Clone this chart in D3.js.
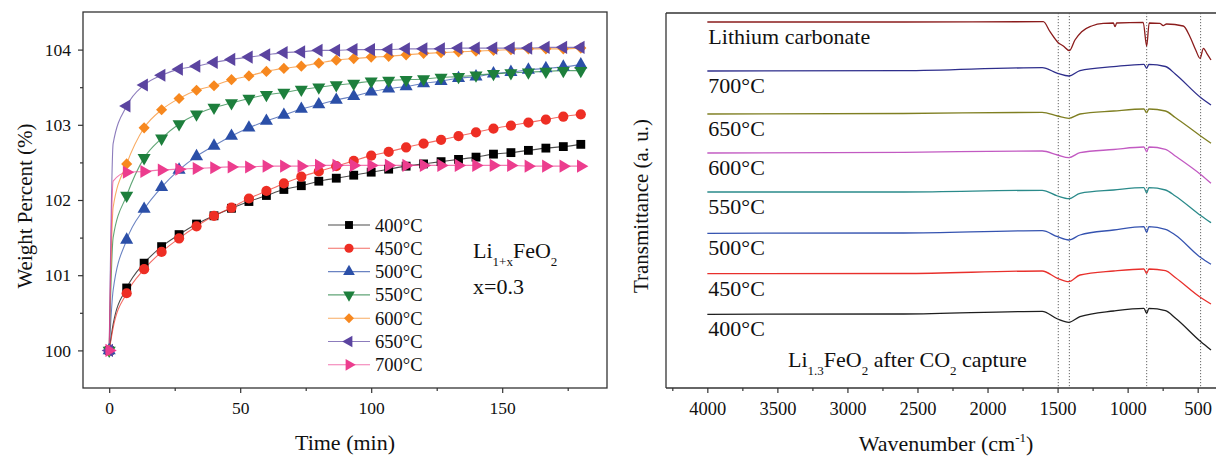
<!DOCTYPE html>
<html><head><meta charset="utf-8">
<script src="https://cdn.jsdelivr.net/npm/d3@7"></script>
<style>
body{margin:0;background:#fff;}
svg text{font-family:"Liberation Serif","Times New Roman",serif !important;fill:#111;}
</style></head>
<body><svg id="chart" width="1216" height="458"></svg>
<script>
// ---------- Left panel data (weight gain vs time) ----------
const times = [0, 6.67, 13.33, 20, 26.67, 33.33, 40, 46.67, 53.33, 60, 66.67, 73.33, 80, 86.67, 93.33, 100, 106.67, 113.33, 120, 126.67, 133.33, 140, 146.67, 153.33, 160, 166.67, 173.33, 180];
const seriesNames = ["400°C", "450°C", "500°C", "550°C", "600°C", "650°C", "700°C"];
const w400 = [100, 100.83, 101.16, 101.38, 101.54, 101.68, 101.79, 101.89, 101.98, 102.06, 102.14, 102.19, 102.25, 102.29, 102.33, 102.37, 102.41, 102.45, 102.48, 102.51, 102.54, 102.57, 102.61, 102.63, 102.66, 102.69, 102.71, 102.74];
const w450 = [100, 100.76, 101.08, 101.31, 101.49, 101.65, 101.79, 101.90, 102.02, 102.12, 102.22, 102.31, 102.38, 102.45, 102.52, 102.59, 102.64, 102.70, 102.75, 102.80, 102.85, 102.90, 102.95, 102.99, 103.03, 103.07, 103.11, 103.14];
const w500 = [100, 101.47, 101.88, 102.17, 102.40, 102.58, 102.72, 102.85, 102.96, 103.05, 103.13, 103.21, 103.27, 103.33, 103.38, 103.44, 103.48, 103.51, 103.55, 103.58, 103.62, 103.64, 103.68, 103.70, 103.73, 103.75, 103.77, 103.80];
const w550 = [100, 102.06, 102.56, 102.82, 103.01, 103.14, 103.23, 103.29, 103.35, 103.40, 103.43, 103.47, 103.50, 103.53, 103.55, 103.58, 103.59, 103.60, 103.61, 103.63, 103.64, 103.66, 103.68, 103.69, 103.70, 103.71, 103.72, 103.72];
const w600 = [100, 102.48, 102.96, 103.20, 103.35, 103.46, 103.52, 103.60, 103.65, 103.71, 103.75, 103.78, 103.82, 103.86, 103.88, 103.90, 103.91, 103.93, 103.95, 103.96, 103.97, 103.98, 103.99, 104.00, 104.01, 104.01, 104.01, 104.02];
const w650 = [100, 103.25, 103.53, 103.66, 103.74, 103.78, 103.83, 103.87, 103.90, 103.93, 103.96, 103.97, 103.99, 103.99, 104.00, 104.00, 104.00, 104.01, 104.01, 104.01, 104.02, 104.02, 104.02, 104.02, 104.02, 104.03, 104.03, 104.03];
const w700 = [100, 102.37, 102.38, 102.40, 102.41, 102.42, 102.43, 102.44, 102.44, 102.45, 102.45, 102.45, 102.46, 102.46, 102.46, 102.46, 102.46, 102.46, 102.46, 102.46, 102.46, 102.46, 102.46, 102.46, 102.45, 102.45, 102.45, 102.45];
// early (unmarked) reading of each trace shortly after start
const earlyTime = 1.5;
const earlyValues = [100.35, 100.30, 100.80, 101.50, 101.90, 102.75, 102.25];
const seriesValues = [w400, w450, w500, w550, w600, w650, w700];
const seriesColors = ["#000000", "#EE2E24", "#2B4FA8", "#1D7F3C", "#F7881F", "#5B44A0", "#EC3D8E"];
const seriesSymbols = ["square", "circle", "up", "down", "diamond", "left", "right"];
const timeTicks = [0, 50, 100, 150];
const weightTicks = [100, 101, 102, 103, 104];

// ---------- Right panel data (FTIR spectra) ----------
const specLabels = ["Lithium carbonate", "700°C", "650°C", "600°C", "550°C", "500°C", "450°C", "400°C"];
const specColors = ["#8B1C1C", "#2E2E8C", "#7F7F22", "#C25AC2", "#2A8A8A", "#3553B0", "#E8302C", "#1E1E1E"];
const liWn = [4000, 2600, 1602, 1554, 1495, 1459, 1416, 1376, 1328, 1257, 1174, 1102, 1090, 1078, 889, 864, 846, 769, 746, 722, 603, 555, 514, 483, 459, 435, 405];
const liT = [366, 366, 366.3, 356.3, 345.3, 342, 337.3, 348, 356.3, 362, 364.7, 365, 361.3, 365, 365.7, 342, 365, 364.7, 362.3, 364, 362, 351.3, 338, 329.7, 339.7, 334.7, 328];
const sampleWn = [4000, 2600, 1610, 1500, 1420, 1340, 1100, 884, 864, 848, 730, 660, 479, 405];
const t700 = [317, 317.3, 320.3, 314.7, 312, 317.3, 321.3, 323.7, 319.7, 323.7, 321.5, 314, 290.5, 283];
const t650 = [274, 274.5, 275.7, 272, 269.7, 274, 277, 279, 275.3, 279, 277, 270.5, 252, 244.7];
const t600 = [235, 235.7, 237, 233, 230.3, 235.3, 238.5, 241, 236.3, 241, 238.7, 232, 213.5, 204.7];
const t550 = [196, 196, 197.7, 192, 189.3, 194.7, 198, 200.3, 195.3, 200.3, 198, 192, 172.5, 165.3];
const t500 = [154.7, 155, 157.3, 151.3, 148, 153, 158, 161.3, 155.7, 161.3, 158.7, 153, 130.5, 123.7];
const t450 = [114.3, 114.5, 117, 109.7, 106.3, 113, 117, 119, 114.7, 119, 117.3, 110.5, 90.5, 84];
const t400 = [73.7, 74, 76.7, 69, 65.7, 71.3, 77, 79.7, 74.7, 79.7, 77.3, 70, 46.5, 38];
const markerWn = [1495, 1416, 864, 479];
const wnTicks = [4000, 3500, 3000, 2500, 2000, 1500, 1000, 500];

// ---------- drawing ----------
const svg = d3.select("#chart");
svg.append("rect").attr("width", 1216).attr("height", 458).attr("fill", "#fff");
const FONT = '"Liberation Serif","Times New Roman",serif';
const axisColor = "#333";

function styleAxis(g, fs) {
  g.attr("font-family", FONT);
  g.selectAll("path.domain").remove();
  g.selectAll("line").attr("stroke", axisColor).attr("stroke-width", 1.2);
  g.selectAll("text").style("font-family", FONT).style("font-size", fs + "px").attr("fill", "#111");
}
function T(sel, fs) { return sel.style("font-family", FONT).style("font-size", fs + "px"); }

// ===== Left =====
const L = {x0: 83, x1: 607, y0: 12, y1: 388};
const xL = d3.scaleLinear().domain([-10, 190]).range([L.x0, L.x1]);
const yL = d3.scaleLinear().domain([99.5, 104.5]).range([L.y1, L.y0]);

const gxL = svg.append("g").attr("transform", `translate(0,${L.y1})`)
  .call(d3.axisBottom(xL).tickValues(timeTicks).tickSize(5).tickPadding(9).tickFormat(d3.format("d")));
styleAxis(gxL, 17.5);
const gxLm = svg.append("g").attr("transform", `translate(0,${L.y1})`)
  .call(d3.axisBottom(xL).tickValues([25, 75, 125, 175]).tickSize(3).tickFormat(""));
styleAxis(gxLm, 17.5);
const gyL = svg.append("g").attr("transform", `translate(${L.x0},0)`)
  .call(d3.axisLeft(yL).tickValues(weightTicks).tickSize(5).tickPadding(7).tickFormat(d3.format("d")));
styleAxis(gyL, 17.5);
const gyLm = svg.append("g").attr("transform", `translate(${L.x0},0)`)
  .call(d3.axisLeft(yL).tickValues([100.5, 101.5, 102.5, 103.5]).tickSize(3).tickFormat(""));
styleAxis(gyLm, 17.5);

svg.append("rect").attr("x", L.x0).attr("y", L.y0).attr("width", L.x1 - L.x0).attr("height", L.y1 - L.y0)
  .attr("fill", "none").attr("stroke", axisColor).attr("stroke-width", 1.3);

function symPath(kind, scale) {
  const k = scale || 1;
  if (kind === "square") return {t: d3.symbol(d3.symbolSquare, 78 * k)(), r: 0};
  if (kind === "circle") return {t: d3.symbol(d3.symbolCircle, 82 * k)(), r: 0};
  if (kind === "diamond") return {t: d3.symbol(d3.symbolSquare, 62 * k)(), r: 45};
  const tri = d3.symbol(d3.symbolTriangle, 74 * k)();
  if (kind === "up") return {t: tri, r: 0};
  if (kind === "down") return {t: tri, r: 180};
  if (kind === "left") return {t: tri, r: -90};
  return {t: tri, r: 90};
}

const lineL = d3.line().x(d => xL(d[0])).y(d => yL(d[1])).curve(d3.curveMonotoneX);
seriesValues.forEach((vals, i) => {
  const pts = times.map((t, j) => [t, vals[j]]);
  const linePts = [pts[0], [earlyTime, earlyValues[i]], ...pts.slice(1)];
  svg.append("path").attr("d", lineL(linePts)).attr("fill", "none")
    .attr("stroke", seriesColors[i]).attr("stroke-opacity", 0.7).attr("stroke-width", 1.1);
});
seriesValues.forEach((vals, i) => {
  const sp = symPath(seriesSymbols[i]);
  svg.append("g").selectAll("path").data(times.map((t, j) => [t, vals[j]])).join("path")
    .attr("d", sp.t)
    .attr("transform", d => `translate(${xL(d[0])},${yL(d[1])}) rotate(${sp.r})`)
    .attr("fill", seriesColors[i]);
});

// legend
const legX = 328, legY = 225, legDy = 23.3;
seriesNames.forEach((name, i) => {
  const yy = legY + i * legDy;
  svg.append("line").attr("x1", legX).attr("x2", legX + 42).attr("y1", yy).attr("y2", yy)
    .attr("stroke", seriesColors[i]).attr("stroke-opacity", 0.7).attr("stroke-width", 1.1);
  const sp = symPath(seriesSymbols[i], 0.8);
  svg.append("path").attr("d", sp.t).attr("transform", `translate(${legX + 21},${yy}) rotate(${sp.r})`)
    .attr("fill", seriesColors[i]);
  T(svg.append("text").attr("x", legX + 47).attr("y", yy + 6.5), 18.5).text(name);
});

// annotation
const ann = T(svg.append("text").attr("x", 473).attr("y", 258), 22);
ann.append("tspan").text("Li");
T(ann.append("tspan"), 13).attr("dy", 8).text("1+x");
T(ann.append("tspan"), 22).attr("dy", -8).text("FeO");
T(ann.append("tspan"), 13).attr("dy", 8).text("2");
T(svg.append("text").attr("x", 473).attr("y", 294), 22).text("x=0.3");

T(svg.append("text").attr("x", (L.x0 + L.x1) / 2).attr("y", 450).attr("text-anchor", "middle"), 22).text("Time (min)");
T(svg.append("text").attr("transform", "translate(32,206) rotate(-90)").attr("text-anchor", "middle"), 21)
  .text("Weight Percent (%)");

// ===== Right =====
const R = {x0: 666, y0: 13, y1: 388};
const xR = d3.scaleLinear().domain([4295, 295]).range([R.x0, R.x0 + 4000 * 0.1401]);
const yR = d3.scaleLinear().domain([0, 375]).range([R.y1, R.y0]);

const gxR = svg.append("g").attr("transform", `translate(0,${R.y1})`)
  .call(d3.axisBottom(xR).tickValues(wnTicks).tickSize(5).tickPadding(9).tickFormat(d3.format("d")));
styleAxis(gxR, 18.5);
const gxRm = svg.append("g").attr("transform", `translate(0,${R.y1})`)
  .call(d3.axisBottom(xR).tickValues([4250, 3750, 3250, 2750, 2250, 1750, 1250, 750]).tickSize(3).tickFormat(""));
styleAxis(gxRm, 18.5);
svg.append("line").attr("x1", R.x0).attr("x2", 1216).attr("y1", R.y1).attr("y2", R.y1).attr("stroke", axisColor).attr("stroke-width", 1.3);
svg.append("line").attr("x1", R.x0).attr("x2", 1216).attr("y1", R.y0).attr("y2", R.y0).attr("stroke", axisColor).attr("stroke-width", 1.3);
svg.append("line").attr("x1", R.x0).attr("x2", R.x0).attr("y1", R.y0).attr("y2", R.y1).attr("stroke", axisColor).attr("stroke-width", 1.3);

// dotted reference lines
markerWn.forEach(w => {
  svg.append("line").attr("x1", xR(w)).attr("x2", xR(w)).attr("y1", R.y0).attr("y2", R.y1)
    .attr("stroke", "#555").attr("stroke-width", 0.9).attr("stroke-dasharray", "1.2,1.8");
});

const spectra = [
  {wn: liWn, t: liT},
  {wn: sampleWn, t: t700}, {wn: sampleWn, t: t650}, {wn: sampleWn, t: t600},
  {wn: sampleWn, t: t550}, {wn: sampleWn, t: t500}, {wn: sampleWn, t: t450}, {wn: sampleWn, t: t400}
];
const lineR = d3.line().x(d => xR(d[0])).y(d => yR(d[1])).curve(d3.curveMonotoneX);
spectra.forEach((s, i) => {
  const pts = s.wn.map((w, j) => [w, s.t[j]]);
  svg.append("path").attr("d", lineR(pts)).attr("fill", "none")
    .attr("stroke", specColors[i]).attr("stroke-width", 1.3);
  T(svg.append("text").attr("x", xR(4000) + 1).attr("y", yR(s.t[0]) + 22), 22).text(specLabels[i]);
});

const cap = T(svg.append("text").attr("x", 788).attr("y", 367), 22);
cap.append("tspan").text("Li");
T(cap.append("tspan"), 13).attr("dy", 8).text("1.3");
T(cap.append("tspan"), 22).attr("dy", -8).text("FeO");
T(cap.append("tspan"), 13).attr("dy", 8).text("2");
T(cap.append("tspan"), 22).attr("dy", -8).text(" after CO");
T(cap.append("tspan"), 13).attr("dy", 8).text("2");
T(cap.append("tspan"), 22).attr("dy", -8).text(" capture");

const xt = T(svg.append("text").attr("x", 946).attr("y", 451).attr("text-anchor", "middle"), 22);
xt.append("tspan").text("Wavenumber (cm");
T(xt.append("tspan"), 13).attr("dy", -9).text("-1");
T(xt.append("tspan"), 22).attr("dy", 9).text(")");
T(svg.append("text").attr("transform", "translate(648,206) rotate(-90)").attr("text-anchor", "middle"), 21)
  .text("Transmittance (a. u.)");
</script></body></html>
